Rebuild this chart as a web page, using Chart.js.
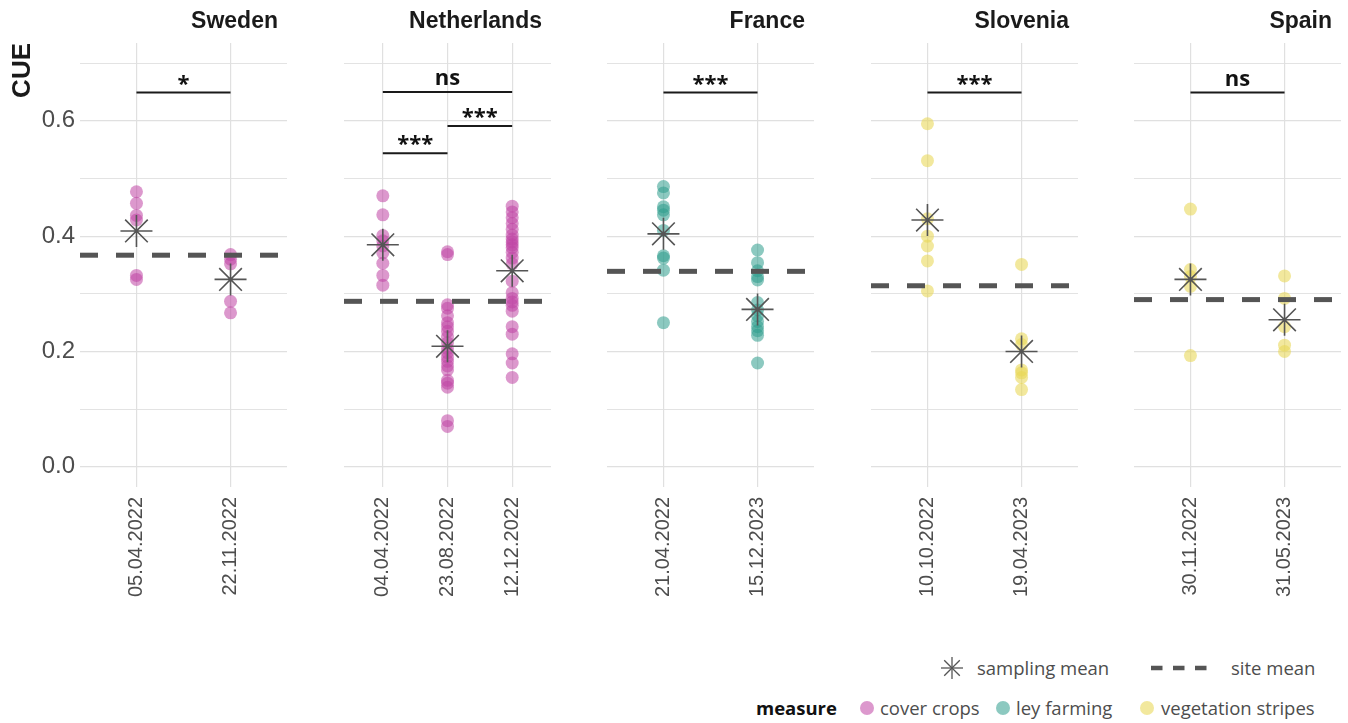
<!DOCTYPE html>
<html>
<head>
<meta charset="utf-8">
<title>CUE by sampling date and site</title>
<script src="https://cdn.jsdelivr.net/npm/chart.js@4.4.1/dist/chart.umd.min.js"></script>
<style>
  html, body { margin: 0; padding: 0; background: #ffffff; }
  #wrap { position: relative; width: 1348px; height: 723px; overflow: hidden; background: #ffffff; }
  #wrap canvas { position: absolute; top: 0; }
  .lg { position: absolute; height: 24px; line-height: 24px; white-space: nowrap;
        font-family: "Open Sans", "Noto Sans", sans-serif; font-size: 18.5px; color: #4d4d4d; }
  .lg.b { font-weight: 700; color: #111111; }
  .sym { position: absolute; }
</style>
</head>
<body>
<div id="wrap"></div>
<script>
// ---- data ---------------------------------------------------------------
const sites = ['Sweden', 'Netherlands', 'France', 'Slovenia', 'Spain'];
const siteMeasure = ['cover crops', 'cover crops', 'ley farming', 'vegetation stripes', 'vegetation stripes'];
const measures = ['cover crops', 'ley farming', 'vegetation stripes'];

const samplingDates = [
  ['05.04.2022', '22.11.2022'],
  ['04.04.2022', '23.08.2022', '12.12.2022'],
  ['21.04.2022', '15.12.2023'],
  ['10.10.2022', '19.04.2023'],
  ['30.11.2022', '31.05.2023']
];

// CUE of every sample, one list per sampling date
const cueSweden = [
  [0.477, 0.457, 0.436, 0.428, 0.332, 0.325],
  [0.368, 0.360, 0.352, 0.287, 0.267]
];
const cueNetherlands = [
  [0.470, 0.437, 0.401, 0.392, 0.383, 0.371, 0.353, 0.332, 0.315],
  [0.373, 0.368, 0.281, 0.275, 0.262, 0.250, 0.243, 0.235, 0.225, 0.215, 0.205,
   0.198, 0.190, 0.183, 0.175, 0.168, 0.150, 0.145, 0.138, 0.080, 0.070],
  [0.452, 0.442, 0.432, 0.422, 0.412, 0.402, 0.395, 0.390, 0.385, 0.380, 0.372, 0.362,
   0.352, 0.322, 0.302, 0.292, 0.286, 0.280, 0.270, 0.243, 0.230, 0.196, 0.180, 0.155]
];
const cueFrance = [
  [0.486, 0.475, 0.451, 0.445, 0.437, 0.410, 0.366, 0.362, 0.341, 0.250],
  [0.376, 0.354, 0.340, 0.330, 0.324, 0.285, 0.272, 0.262, 0.252, 0.243, 0.236, 0.228, 0.180]
];
const cueSlovenia = [
  [0.595, 0.531, 0.430, 0.400, 0.383, 0.357, 0.305],
  [0.351, 0.222, 0.212, 0.168, 0.163, 0.155, 0.134]
];
const cueSpain = [
  [0.447, 0.342, 0.330, 0.313, 0.193],
  [0.331, 0.292, 0.243, 0.211, 0.200]
];
const siteValues = [cueSweden, cueNetherlands, cueFrance, cueSlovenia, cueSpain];

// mean per sampling date and mean per site
const samplingMeans = [
  [0.409, 0.325],
  [0.385, 0.209, 0.340],
  [0.404, 0.273],
  [0.428, 0.200],
  [0.325, 0.255]
];
const siteMeans = [0.367, 0.287, 0.339, 0.314, 0.290];

// pairwise comparisons between sampling dates
const sigSite  = [0, 1, 1, 1, 2, 3, 4];
const sigFrom  = [1, 1, 2, 1, 1, 1, 1];
const sigTo    = [2, 3, 3, 2, 2, 2, 2];
const sigLevel = [0.649, 0.650, 0.591, 0.544, 0.649, 0.649, 0.649];
const sigLabel = ['*', 'ns', '***', '***', '***', '***', 'ns'];

const yTicks = [0, 0.1, 0.2, 0.3, 0.4, 0.5, 0.6, 0.7];

// ---- styling --------------------------------------------------------------
const measureColor = {
  'cover crops': 'rgba(192, 68, 164, 0.55)',
  'ley farming': 'rgba(46, 156, 140, 0.55)',
  'vegetation stripes': 'rgba(232, 216, 86, 0.58)'
};
const INK = '#555555';
const GRID = '#e0e0e0';
const SANS = '"Liberation Sans", Arial, sans-serif';

const PANEL_LEFT0 = 80, PANEL_STEP = 263.5, PANEL_W = 207;
const AREA_TOP = 43, AREA_BOTTOM = 487, CANVAS_H = 640;

// site name above each panel, right aligned
const stripTitle = {
  id: 'stripTitle',
  afterDraw(chart, args, opts) {
    const { ctx, chartArea } = chart;
    ctx.save();
    ctx.font = 'bold 23px ' + SANS;
    ctx.fillStyle = '#1a1a1a';
    ctx.textAlign = 'right';
    ctx.textBaseline = 'middle';
    ctx.fillText(opts.text, chartArea.right - 9, 22);
    ctx.restore();
  }
};

// significance labels centred above their bracket
const sigText = {
  id: 'sigText',
  afterDatasetsDraw(chart, args, opts) {
    const { ctx } = chart;
    const xs = chart.scales.x, ys = chart.scales.y;
    ctx.save();
    ctx.font = 'bold 22px "Open Sans", "Noto Sans", sans-serif';
    ctx.fillStyle = '#111111';
    ctx.textAlign = 'center';
    ctx.textBaseline = 'alphabetic';
    opts.items.forEach(it => {
      const x = (xs.getPixelForValue(it.from) + xs.getPixelForValue(it.to)) / 2;
      const yLine = ys.getPixelForValue(it.level);
      const m = ctx.measureText(it.label);
      ctx.fillText(it.label, x, yLine - 7 - m.actualBoundingBoxDescent);
    });
    ctx.restore();
  }
};

// ---- panels ---------------------------------------------------------------
const wrap = document.getElementById('wrap');

sites.forEach((site, s) => {
  const dates = samplingDates[s];
  const n = dates.length;
  const areaLeft = Math.round(PANEL_LEFT0 + s * PANEL_STEP);
  const canvasLeft = s === 0 ? 0 : areaLeft;
  const yAxisW = areaLeft - canvasLeft;
  const width = areaLeft + PANEL_W - canvasLeft;

  const cv = document.createElement('canvas');
  cv.width = width; cv.height = CANVAS_H;
  cv.style.left = canvasLeft + 'px';
  cv.style.width = width + 'px'; cv.style.height = CANVAS_H + 'px';
  wrap.appendChild(cv);

  const color = measureColor[siteMeasure[s]];
  const samples = siteValues[s].flatMap((vals, k) => vals.map(v => ({ x: k + 1, y: v })));
  const means = samplingMeans[s].map((v, k) => ({ x: k + 1, y: v }));

  const datasets = [
    {
      type: 'scatter', label: siteMeasure[s], data: samples, order: 3,
      backgroundColor: color, borderWidth: 0, pointRadius: 6.5, pointHoverRadius: 6.5
    },
    {
      type: 'line', label: 'site mean', order: 1,
      data: [{ x: 0.4, y: siteMeans[s] }, { x: n + 0.6, y: siteMeans[s] }],
      borderColor: INK, borderWidth: 5, borderDash: [18, 18], borderCapStyle: 'butt',
      pointRadius: 0, tension: 0, fill: false
    },
    {
      type: 'scatter', label: 'sampling mean', data: means, order: 0,
      pointStyle: 'star', pointRadius: 16, pointHoverRadius: 16,
      borderColor: INK, borderWidth: 1.6, backgroundColor: 'rgba(0,0,0,0)'
    }
  ];

  const sigItems = [];
  sigSite.forEach((site_i, j) => {
    if (site_i !== s) return;
    sigItems.push({ from: sigFrom[j], to: sigTo[j], level: sigLevel[j], label: sigLabel[j] });
    datasets.push({
      type: 'line', label: sigLabel[j], order: 1,
      data: [{ x: sigFrom[j], y: sigLevel[j] }, { x: sigTo[j], y: sigLevel[j] }],
      borderColor: '#1a1a1a', borderWidth: 2, pointRadius: 0, tension: 0, fill: false
    });
  });

  new Chart(cv, {
    type: 'scatter',
    data: { datasets },
    options: {
      responsive: false,
      animation: false,
      devicePixelRatio: 1,
      events: [],
      layout: { autoPadding: false, padding: { top: AREA_TOP, left: 0, right: 0, bottom: 0 } },
      plugins: {
        legend: { display: false },
        tooltip: { enabled: false },
        stripTitle: { text: site },
        sigText: { items: sigItems }
      },
      scales: {
        x: {
          type: 'linear',
          min: 0.4, max: n + 0.6,
          afterBuildTicks: sc => { sc.ticks = dates.map((d, k) => ({ value: k + 1 })); },
          afterFit: sc => {
            sc.height = CANVAS_H - AREA_BOTTOM;
            sc.paddingLeft = 0; sc.paddingRight = 0;
          },
          border: { display: false },
          grid: { color: GRID, lineWidth: 1.2, drawTicks: false },
          ticks: {
            autoSkip: false, minRotation: 90, maxRotation: 90, padding: 10,
            color: '#4d4d4d', font: { family: SANS, size: 20 },
            callback: (v, i) => dates[i]
          }
        },
        y: {
          type: 'linear',
          min: -0.035, max: 0.735,
          afterBuildTicks: sc => { sc.ticks = yTicks.map(v => ({ value: v })); },
          afterFit: sc => {
            sc.width = yAxisW;
            sc.paddingTop = 0; sc.paddingBottom = 0;
          },
          border: { display: false },
          grid: {
            color: GRID, drawTicks: false,
            lineWidth: c => (c.index % 2 === 0 ? 1.3 : 0.9)
          },
          ticks: {
            display: s === 0, padding: 5,
            color: '#4d4d4d', font: { family: SANS, size: 24 },
            callback: (v, i) => (i % 2 === 0 ? v.toFixed(1) : '')
          },
          title: {
            display: s === 0, text: 'CUE', align: 'end',
            color: '#1a1a1a', font: { family: SANS, size: 26, weight: 'bold' },
            padding: { top: 7, bottom: 0 }
          }
        }
      }
    },
    plugins: [stripTitle, sigText]
  });
});

// ---- legend -------------------------------------------------------------
function addText(txt, left, cy, bold) {
  const d = document.createElement('div');
  d.className = 'lg' + (bold ? ' b' : '');
  d.textContent = txt;
  d.style.left = left + 'px';
  d.style.top = (cy - 12) + 'px';
  wrap.appendChild(d);
}
function addSvg(left, top, w, h, inner) {
  const ns = 'http://www.w3.org/2000/svg';
  const svg = document.createElementNS(ns, 'svg');
  svg.setAttribute('class', 'sym');
  svg.setAttribute('width', w); svg.setAttribute('height', h);
  svg.style.left = left + 'px'; svg.style.top = top + 'px';
  svg.innerHTML = inner;
  wrap.appendChild(svg);
}

// row 1: sampling mean and site mean
const r = 11, d45 = r * Math.SQRT1_2;
addSvg(952 - 12, 668 - 12, 24, 24,
  `<g stroke="${INK}" stroke-width="1.3" transform="translate(12,12)">
     <line x1="${-r}" y1="0" x2="${r}" y2="0"/><line x1="0" y1="${-r}" x2="0" y2="${r}"/>
     <line x1="${-d45}" y1="${-d45}" x2="${d45}" y2="${d45}"/>
     <line x1="${-d45}" y1="${d45}" x2="${d45}" y2="${-d45}"/></g>`);
addText('sampling mean', 977, 668, false);
addSvg(1151, 664, 56, 8,
  `<line x1="0" y1="4" x2="56" y2="4" stroke="${INK}" stroke-width="4.5" stroke-dasharray="11.5 10.5"/>`);
addText('site mean', 1231, 668, false);

// row 2: measure
addText('measure', 756, 708, true);
const dotX = [867, 1003, 1147];
const textX = [880, 1016, 1161];
measures.forEach((m, i) => {
  addSvg(dotX[i] - 8, 700, 16, 16, `<circle cx="8" cy="8" r="7" fill="${measureColor[m]}"/>`);
  addText(m, textX[i], 708, false);
});
</script>
</body>
</html>
